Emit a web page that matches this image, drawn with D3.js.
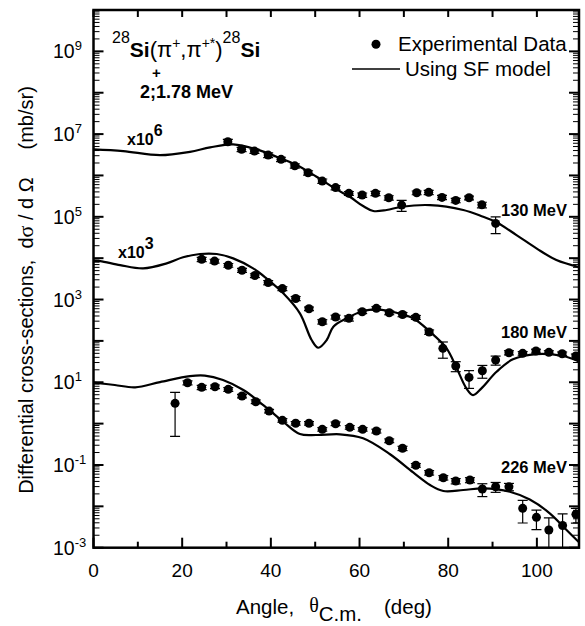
<!DOCTYPE html>
<html>
<head>
<meta charset="utf-8">
<script src="https://cdn.jsdelivr.net/npm/d3@7"></script>
<style>
  body { margin: 0; background: #fff; }
  svg { display: block; }
  text { font-family: Arial, "Liberation Sans", sans-serif; fill: #000; }
</style>
</head>
<body>
<svg width="585" height="626"></svg>
<script>
// --- DATA (true cross-sections in mb/sr; plotted multiplied by the factor) ---
const energies = ["130 MeV", "180 MeV", "226 MeV"];
const factors = [1e6, 1e3, 1];

// 130 MeV experimental
const angle130 = [30.3, 33.4, 36.3, 39.4, 42.3, 45.4, 48.4, 51.6, 54.6, 57.6, 60.6, 63.6, 66.6, 69.5, 72.9, 75.6, 78.6, 81.7, 84.7, 87.6, 90.7];
const xs130 = [6.52, 4.27, 3.88, 3.10, 2.45, 1.71, 1.16, 0.731, 0.509, 0.369, 0.336, 0.369, 0.288, 0.192, 0.381, 0.390, 0.295, 0.249, 0.288, 0.195, 0.0693];
const err130 = [0.9, 0.5, 0.45, 0.4, 0.3, 0.2, 0.14, 0.09, 0.06, 0.04, 0.04, 0.045, 0.035, 0.057, 0.04, 0.045, 0.035, 0.03, 0.03, 0.03, 0.03];

// 180 MeV experimental
const angle180 = [24.4, 27.3, 30.4, 33.5, 36.4, 39.4, 42.6, 45.6, 48.6, 51.6, 54.6, 57.6, 60.6, 63.8, 66.7, 69.7, 72.7, 75.7, 78.8, 81.7, 84.7, 87.7, 90.7, 93.7, 96.8, 99.8, 102.7, 105.7, 108.8];
const xs180 = [9.36, 8.51, 6.74, 5.10, 3.80, 2.57, 1.84, 1.06, 0.598, 0.290, 0.377, 0.351, 0.507, 0.612, 0.479, 0.434, 0.371, 0.164, 0.0661, 0.0247, 0.0131, 0.0190, 0.0344, 0.0518, 0.0500, 0.0569, 0.0528, 0.0489, 0.0431];
const err180 = [1.1, 0.9, 0.7, 0.55, 0.4, 0.3, 0.2, 0.12, 0.06, 0.035, 0.04, 0.05, 0.05, 0.06, 0.05, 0.05, 0.04, 0.02, 0.028, 0.0067, 0.006, 0.0065, 0.0085, 0.006, 0.005, 0.006, 0.005, 0.005, 0.005];

// 226 MeV experimental
const angle226 = [18.4, 21.2, 24.4, 27.4, 30.4, 33.5, 36.6, 39.6, 42.6, 45.6, 48.6, 51.6, 54.6, 57.8, 60.7, 63.8, 66.7, 69.7, 72.7, 75.7, 78.9, 81.7, 84.9, 87.7, 90.7, 93.7, 96.8, 99.9, 102.7, 105.8, 108.8];
const xs226 = [3.09, 9.73, 7.54, 7.79, 6.74, 4.65, 3.38, 2.01, 1.20, 1.02, 1.02, 0.728, 0.993, 0.813, 0.728, 0.662, 0.386, 0.253, 0.0982, 0.0650, 0.0492, 0.0409, 0.0433, 0.0262, 0.0298, 0.0298, 0.00895, 0.00543, 0.00268, 0.00344, 0.00641];
const err226 = [2.6, 1.1, 0.9, 0.8, 0.7, 0.45, 0.35, 0.2, 0.12, 0.1, 0.1, 0.07, 0.1, 0.08, 0.07, 0.07, 0.04, 0.03, 0.01, 0.008, 0.006, 0.006, 0.006, 0.009, 0.008, 0.006, 0.005, 0.0027, 0.0026, 0.0031, 0.0025];

// SF model curves
const curveAngle130 = [0, 6.7, 15.0, 21.75, 26.3, 31.5, 36.8, 41.3, 45.8, 50.3, 54.8, 57.8, 60.8, 63.1, 66.1, 69.5, 75.9, 83.4, 87.9, 90.7, 95.4, 99.9, 104.4, 109.5];
const curve130 = [4.27, 3.88, 3.10, 3.73, 4.77, 5.64, 4.27, 2.83, 1.78, 0.929, 0.460, 0.305, 0.182, 0.138, 0.146, 0.175, 0.192, 0.146, 0.100, 0.0759, 0.0362, 0.0173, 0.0090, 0.0061];

const curveAngle180 = [0, 1.5, 6.0, 11.2, 16.5, 20.2, 24.0, 27.8, 31.5, 36.0, 39.0, 42.8, 46.55, 49.2, 50.7, 52.6, 54.1, 57.1, 60.8, 63.8, 68.35, 72.1, 75.9, 79.6, 81.9, 84.1, 85.6, 87.5, 90.9, 94.6, 99.9, 105.9, 109.5];
const curve180 = [8.6, 8.51, 6.81, 5.67, 7.49, 10.5, 12.6, 12.6, 9.89, 5.67, 3.25, 1.41, 0.463, 0.105, 0.0682, 0.105, 0.220, 0.351, 0.527, 0.579, 0.479, 0.351, 0.166, 0.0671, 0.0221, 0.00713, 0.00491, 0.00713, 0.0179, 0.0358, 0.0481, 0.0431, 0.0318];

const curveAngle226 = [0, 4.8, 9.4, 15.0, 21.75, 25.1, 29.2, 33.8, 38.3, 42.8, 46.55, 50.3, 55.6, 60.8, 66.8, 72.1, 75.9, 78.9, 83.4, 87.9, 93.9, 98.4, 102.9, 106.7, 109.5];
const curve226 = [9.84, 8.57, 7.54, 10.1, 14.1, 14.5, 11.3, 6.49, 2.81, 1.11, 0.560, 0.530, 0.551, 0.441, 0.184, 0.0658, 0.0328, 0.0235, 0.0248, 0.0273, 0.0226, 0.0146, 0.00679, 0.00268, 0.00135];

const xTicks = [0, 20, 40, 60, 80, 100];
const yLabelExps = [-3, -1, 1, 3, 5, 7, 9];

// --- SETUP ---
const svg = d3.select("svg");
const mLeft = 93.5, mRight = 579, mTop = 10, mBottom = 547.7;

const x = d3.scaleLinear().domain([0, 109.5]).range([mLeft, mRight]);
const y = d3.scaleLog().domain([1e-3, 1e10]).range([mBottom, mTop]);

const series = [
  { ang: angle130, val: xs130, err: err130, cAng: curveAngle130, cVal: curve130 },
  { ang: angle180, val: xs180, err: err180, cAng: curveAngle180, cVal: curve180 },
  { ang: angle226, val: xs226, err: err226, cAng: curveAngle226, cVal: curve226 }
];

svg.append("clipPath").attr("id", "clip")
  .append("rect").attr("x", mLeft).attr("y", mTop).attr("width", mRight - mLeft).attr("height", mBottom - mTop);

const plot = svg.append("g").attr("clip-path", "url(#clip)");

const line = d3.line()
  .x(d => x(d[0]))
  .y(d => y(d[1]))
  .curve(d3.curveCatmullRom.alpha(0.5));

// --- CURVES + POINTS ---
series.forEach((s, i) => {
  const f = factors[i];
  plot.append("path")
    .datum(s.cAng.map((a, j) => [a, s.cVal[j] * f]))
    .attr("d", line)
    .attr("fill", "none")
    .attr("stroke", "#000")
    .attr("stroke-width", 2.2);

  const pts = s.ang.map((a, j) => ({ a: a, v: s.val[j] * f, e: s.err[j] * f }));
  const g = plot.append("g");
  pts.forEach(p => {
    const lo = Math.max(p.v - p.e, 1e-4);
    const hi = p.v + p.e;
    const cx = x(p.a);
    g.append("line").attr("x1", cx).attr("x2", cx).attr("y1", y(lo)).attr("y2", y(hi))
      .attr("stroke", "#000").attr("stroke-width", 1.2);
    [lo, hi].forEach(v => {
      g.append("line").attr("x1", cx - 5).attr("x2", cx + 5).attr("y1", y(v)).attr("y2", y(v))
        .attr("stroke", "#000").attr("stroke-width", 1.2);
    });
  });
  g.selectAll("circle").data(pts).enter().append("circle")
    .attr("cx", d => x(d.a))
    .attr("cy", d => y(d.v))
    .attr("r", 4.5)
    .attr("fill", "#000");
});

// --- AXES ---
const axes = svg.append("g").attr("stroke", "#000");
axes.append("rect")
  .attr("x", mLeft).attr("y", mTop).attr("width", mRight - mLeft).attr("height", mBottom - mTop)
  .attr("fill", "none").attr("stroke-width", 2.5);

// x ticks (bottom: major every 20, minor every 10; top: every 10)
d3.range(0, 110, 10).forEach(v => {
  const len = v % 20 === 0 ? 10 : 6;
  axes.append("line").attr("x1", x(v)).attr("x2", x(v)).attr("y1", mBottom).attr("y2", mBottom - len).attr("stroke-width", 2);
  axes.append("line").attr("x1", x(v)).attr("x2", x(v)).attr("y1", mTop).attr("y2", mTop + 7).attr("stroke-width", 2);
});

// y ticks, log majors and minors on both sides
for (let k = -3; k <= 10; k++) {
  const v = Math.pow(10, k);
  [[mLeft, 1], [mRight, -1]].forEach(([x0, dir]) => {
    axes.append("line").attr("x1", x0).attr("x2", x0 + dir * 10).attr("y1", y(v)).attr("y2", y(v)).attr("stroke-width", 2);
    if (k < 10) {
      for (let m = 2; m <= 9; m++) {
        const yy = y(m * v);
        axes.append("line").attr("x1", x0).attr("x2", x0 + dir * 6).attr("y1", yy).attr("y2", yy).attr("stroke-width", 1);
      }
    }
  });
}

// tick labels
svg.selectAll(".xl").data(xTicks).enter().append("text")
  .attr("x", d => x(d)).attr("y", 577)
  .attr("text-anchor", "middle").attr("font-size", 19)
  .text(d => d);

yLabelExps.forEach(e => {
  const t = svg.append("text").attr("x", 53).attr("y", y(Math.pow(10, e)) + 7).attr("font-size", 19.5);
  t.append("tspan").text("10");
  t.append("tspan").attr("dy", -8).attr("font-size", 13).text(e < 0 ? "-" + (-e) : e);
});

// axis titles
const serif = "'Liberation Serif', 'DejaVu Serif', serif";
const xt = svg.append("text").attr("x", 236).attr("y", 614).attr("font-size", 20.5).style("white-space", "pre");
xt.append("tspan").text("Angle,");
xt.append("tspan").attr("font-family", serif).attr("font-size", 20).attr("dx", 15).attr("dy", -2).text("θ");
xt.append("tspan").attr("dy", 9).text("C.m.");
xt.append("tspan").attr("dx", 22).attr("dy", -7).text("(deg)");

const yt = svg.append("text")
  .attr("transform", "translate(33,290) rotate(-90)")
  .attr("text-anchor", "middle").attr("font-size", 20).style("white-space", "pre");
yt.append("tspan").text("Differential cross-sections,  d");
yt.append("tspan").attr("font-family", serif).attr("font-size", 22).text("σ");
yt.append("tspan").text(" / d Ω     (mb/sr)");

// reaction title
const sans = "Arial, 'Liberation Sans', sans-serif";
const tt = svg.append("text").attr("x", 112).attr("y", 56.5).attr("font-size", 22).attr("font-family", serif);
tt.append("tspan").attr("font-size", 16).attr("dy", -14).text("28");
tt.append("tspan").attr("dy", 14).attr("font-family", sans).attr("font-weight", "bold").attr("font-size", 21).text("Si");
tt.append("tspan").text("(π");
tt.append("tspan").attr("font-size", 14).attr("dy", -9).text("+");
tt.append("tspan").attr("dy", 9).text(",π");
tt.append("tspan").attr("font-size", 14).attr("dy", -9).text("+*");
tt.append("tspan").attr("dy", 9).text(")");
tt.append("tspan").attr("font-size", 16).attr("dy", -14).text("28");
tt.append("tspan").attr("dy", 14).attr("font-family", sans).attr("font-weight", "bold").attr("font-size", 21).text("Si");

// excited state label: "+" sits above the ";"
svg.append("text").attr("x", 152).attr("y", 78).attr("font-size", 15).attr("font-weight", "bold").text("+");
const st = svg.append("text").attr("x", 140).attr("y", 97.5).attr("font-size", 18).attr("font-weight", "bold");
st.append("tspan").text("2");
st.append("tspan").text(";1.78 MeV");

// scale factor notes
[["6", 127, 145], ["3", 118, 258]].forEach(([p, xx, yy]) => {
  const t = svg.append("text").attr("x", xx).attr("y", yy).attr("font-size", 16).attr("font-weight", "bold");
  t.append("tspan").text("x10");
  t.append("tspan").attr("dy", -9).text(p);
});

// energy labels
const eY = [216, 338.3, 472.7];
energies.forEach((e, i) => {
  svg.append("text").attr("x", 567).attr("y", eY[i]).attr("text-anchor", "end")
    .attr("font-size", 16.5).attr("font-weight", "bold").text(e);
});

// legend
svg.append("circle").attr("cx", 376).attr("cy", 44.3).attr("r", 4.5).attr("fill", "#000");
svg.append("text").attr("x", 398).attr("y", 50.5).attr("font-size", 20.5).text("Experimental Data");
svg.append("line").attr("x1", 352).attr("x2", 400).attr("y1", 69).attr("y2", 69).attr("stroke", "#000").attr("stroke-width", 1.5);
svg.append("text").attr("x", 405).attr("y", 75.5).attr("font-size", 20.5).text("Using SF model");
</script>
</body>
</html>
